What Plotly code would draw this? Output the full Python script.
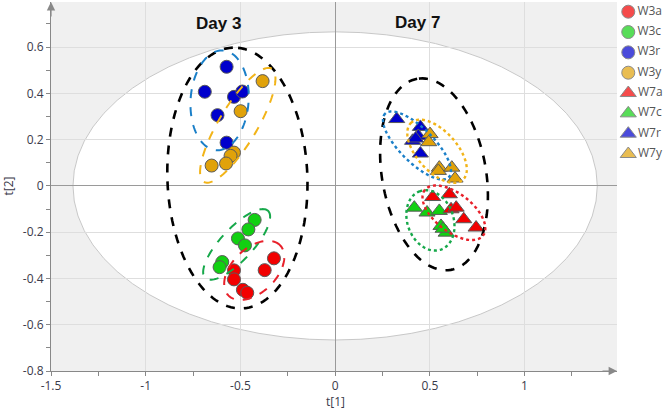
import numpy as np
import plotly.graph_objects as go

# ---------------- data ----------------
series_names = ["W3a", "W3c", "W3r", "W3y", "W7a", "W7c", "W7r", "W7y"]

w3a_t1 = [-0.323, -0.372, -0.534, -0.534, -0.487, -0.464]
w3a_t2 = [-0.313, -0.364, -0.365, -0.404, -0.449, -0.462]
w3c_t1 = [-0.425, -0.458, -0.513, -0.476, -0.596, -0.610]
w3c_t2 = [-0.147, -0.188, -0.227, -0.257, -0.329, -0.351]
w3r_t1 = [-0.573, -0.688, -0.534, -0.490, -0.621, -0.573]
w3r_t2 = [0.515, 0.407, 0.385, 0.408, 0.306, 0.187]
w3y_t1 = [-0.383, -0.499, -0.534, -0.552, -0.576, -0.652]
w3y_t2 = [0.453, 0.323, 0.144, 0.130, 0.097, 0.088]
w7a_t1 = [0.515, 0.603, 0.612, 0.639, 0.679, 0.744]
w7a_t2 = [-0.048, -0.036, -0.101, -0.094, -0.144, -0.180]
w7c_t1 = [0.418, 0.485, 0.550, 0.559, 0.586, 0.570]
w7c_t2 = [-0.094, -0.115, -0.108, -0.173, -0.202, -0.185]
w7r_t1 = [0.325, 0.450, 0.439, 0.409, 0.450, 0.425]
w7r_t2 = [0.289, 0.255, 0.216, 0.195, 0.140, 0.205]
w7y_t1 = [0.501, 0.494, 0.550, 0.545, 0.616, 0.633]
w7y_t2 = [0.224, 0.189, 0.079, 0.065, 0.079, 0.032]

x_tickvals = [-1.5, -1, -0.5, 0, 0.5, 1]
x_ticktext = ["-1.5", "-1", "-0.5", "0", "0.5", "1"]
y_tickvals = [-0.8, -0.6, -0.4, -0.2, 0, 0.2, 0.4, 0.6]
y_ticktext = ["-0.8", "-0.6", "-0.4", "-0.2", "0", "0.2", "0.4", "0.6"]

# Hotelling T2 ellipse semi-axes (t[1], t[2])
t2_ellipse = [1.384, 0.666]

# group ellipses: name, centre t1, centre t2, semi-major(px), semi-minor(px), angle(deg), colour, dash, width
group_ellipses = [
    ("Day 3", -0.516, 0.034, 130.5, 70, 92, "#000000", "dash", 2.6),
    ("W3r", -0.610, 0.370, 50, 29, 86, "#1a7fc8", "dash", 2),
    ("W3y", -0.514, 0.262, 66, 19, 59, "#f2b418", "dash", 2),
    ("W3c", -0.520, -0.253, 46, 16, 47, "#16a84a", "dash", 2),
    ("W3a", -0.427, -0.365, 36, 22, 44, "#e8202a", "dash", 2),
    ("Day 7", 0.522, 0.050, 97, 52, 100, "#000000", "dash", 2.6),
    ("W7r", 0.432, 0.175, 45, 17, 135, "#1a7fc8", "dot", 2.4),
    ("W7y", 0.538, 0.150, 38.5, 20, 132, "#f2b418", "dot", 2.4),
    ("W7c", 0.503, -0.149, 31, 23, 110, "#16a84a", "dot", 2.4),
    ("W7a", 0.627, -0.116, 37, 19, 142, "#e8202a", "dot", 2.4),
]

day_labels = [("Day 3", -0.615, 0.700), ("Day 7", 0.436, 0.708)]

# ---------------- layout geometry ----------------
W, H = 666, 412
ML, MR, MT, MB = 51, 0, 2, 41
PLOT_RIGHT = 617
main_dom = (PLOT_RIGHT - ML) / (W - ML - MR)
x_range = [-1.5, 1.488]
y_range = [-0.8, 0.795]
sx = (PLOT_RIGHT - ML) / (x_range[1] - x_range[0])
sy = (H - MT - MB) / (y_range[1] - y_range[0])

colors = {"a": "#f20000", "c": "#12d012", "r": "#0000cc", "y": "#e0a20a"}

series = [
    ("W3a", w3a_t1, w3a_t2, "circle", colors["a"]),
    ("W3c", w3c_t1, w3c_t2, "circle", colors["c"]),
    ("W3r", w3r_t1, w3r_t2, "circle", colors["r"]),
    ("W3y", w3y_t1, w3y_t2, "circle", colors["y"]),
    ("W7a", w7a_t1, w7a_t2, "triangle-up", colors["a"]),
    ("W7c", w7c_t1, w7c_t2, "triangle-up", colors["c"]),
    ("W7r", w7r_t1, w7r_t2, "triangle-up", colors["r"]),
    ("W7y", w7y_t1, w7y_t2, "triangle-up", colors["y"]),
]
draw_order = ["W3c", "W3a", "W3r", "W3y", "W7c", "W7a", "W7r", "W7y"]

def msize(sym):
    return 13 if sym == "circle" else 14

fig = go.Figure()
for name in draw_order:
    nm, xs, ys, sym, col = next(s for s in series if s[0] == name)
    fig.add_trace(go.Scatter(
        x=xs, y=ys, mode="markers", name=nm, showlegend=False,
        marker=dict(symbol=sym, size=msize(sym), color=col,
                    line=dict(color="#5a5a5a", width=1)),
    ))

# legend drawn on its own small axis at the right
leg_rows = list(range(len(series)))
fig.add_trace(go.Scatter(
    x=[0.23] * len(series), y=leg_rows, xaxis="x2", yaxis="y2",
    mode="markers+text", text=[s[0] for s in series], textposition="middle right",
    textfont=dict(family="Open Sans, DejaVu Sans", size=12, color="#555"),
    marker=dict(symbol=[s[3] for s in series], size=[msize(s[3]) for s in series],
                color=[s[4] for s in series], line=dict(color="#5a5a5a", width=1)),
    showlegend=False, hoverinfo="skip", cliponaxis=False,
))

shapes = []
# grey plotting area outside the Hotelling ellipse
shapes.append(dict(type="rect", xref="x domain", yref="y domain", layer="below",
                   x0=0, x1=1, y0=0, y1=1, fillcolor="#f0f0f0", line=dict(width=0)))
shapes.append(dict(type="circle", xref="x", yref="y", layer="below",
                   x0=-t2_ellipse[0], x1=t2_ellipse[0], y0=-t2_ellipse[1], y1=t2_ellipse[1],
                   fillcolor="white", line=dict(color="#c8c8c8", width=1)))

t = np.linspace(0, 2 * np.pi, 121)
for (nm, cx, cy, a, b, ang, col, dash, lw) in group_ellipses:
    th = np.radians(ang)
    px = a * np.cos(th) * np.cos(t) - b * np.sin(th) * np.sin(t)
    py = a * np.sin(th) * np.cos(t) + b * np.cos(th) * np.sin(t)
    xs = cx + px / sx
    ys = cy + py / sy
    path = "M " + " L ".join(f"{x:.5f},{y:.5f}" for x, y in zip(xs, ys)) + " Z"
    shapes.append(dict(type="path", path=path, xref="x", yref="y", layer="above",
                       line=dict(color=col, width=lw, dash=dash)))

tickfont = dict(family="Open Sans, DejaVu Sans", size=12, color="#3a3a4a")

annotations = []
for txt, ax_, ay_ in day_labels:
    annotations.append(dict(x=ax_, y=ay_, xref="x", yref="y", text=f"<b>{txt}</b>",
                            showarrow=False, font=dict(family="Liberation Sans, Arial", size=17, color="#111")))
# axis titles
annotations.append(dict(x=0, y=-(402 - (H - MB)) / (H - MT - MB), xref="x", yref="paper",
                        text="t[1]", showarrow=False, font=tickfont, yanchor="middle"))
annotations.append(dict(x=-(ML - 12) / (PLOT_RIGHT - ML), y=0, xref="paper", yref="y",
                        text="t[2]", showarrow=False, font=tickfont, textangle=-90, xanchor="center"))
# axis arrows
annotations.append(dict(x=main_dom, y=0, xref="paper", yref="paper", ax=-16, ay=0, text="",
                        showarrow=True, arrowhead=2, arrowsize=1.4, arrowwidth=1.2, arrowcolor="#888"))
annotations.append(dict(x=0, y=1, xref="paper", yref="paper", ax=0, ay=16, text="",
                        showarrow=True, arrowhead=2, arrowsize=1.4, arrowwidth=1.2, arrowcolor="#888"))

# legend axis mapping: row i at pixel 11.7 + 20.33*i
row_px0, row_step = 11.7, 20.33
plot_h = H - MT - MB
r_top = -(row_px0 - MT) / row_step
r_bot = r_top + plot_h / row_step

fig.update_layout(
    width=W, height=H,
    margin=dict(l=ML, r=MR, t=MT, b=MB, autoexpand=False),
    paper_bgcolor="white", plot_bgcolor="white",
    shapes=shapes, annotations=annotations,
    showlegend=False, hovermode=False,
    xaxis=dict(domain=[0, main_dom], range=x_range, tickvals=x_tickvals, ticktext=x_ticktext,
               showgrid=True, gridcolor="#dedede", gridwidth=1, zeroline=True, zerolinecolor="#9a9a9a",
               zerolinewidth=1, showline=True, linecolor="#888", linewidth=1,
               ticks="outside", ticklen=4, tickcolor="#888", tickfont=tickfont,
               minor=dict(dtick=0.25, tick0=0, ticks="outside", ticklen=4, tickcolor="#888", showgrid=False)),
    yaxis=dict(range=y_range, tickvals=y_tickvals, ticktext=y_ticktext, showgrid=True,
               gridcolor="#dedede", gridwidth=1, zeroline=True, zerolinecolor="#9a9a9a",
               zerolinewidth=1, showline=True, linecolor="#888", linewidth=1,
               ticks="outside", ticklen=4, tickcolor="#888", tickfont=tickfont,
               minor=dict(dtick=0.1, tick0=0, ticks="outside", ticklen=4, tickcolor="#888", showgrid=False)),
    xaxis2=dict(domain=[main_dom, 1], range=[0, 1], visible=False, fixedrange=True),
    yaxis2=dict(domain=[0, 1], range=[r_bot, r_top], anchor="x2", visible=False, fixedrange=True),
)

fig.write_html("out.html", config={"displayModeBar": False, "staticPlot": True},
               post_script="document.body.style.margin='0px';document.body.style.overflow='hidden';")
